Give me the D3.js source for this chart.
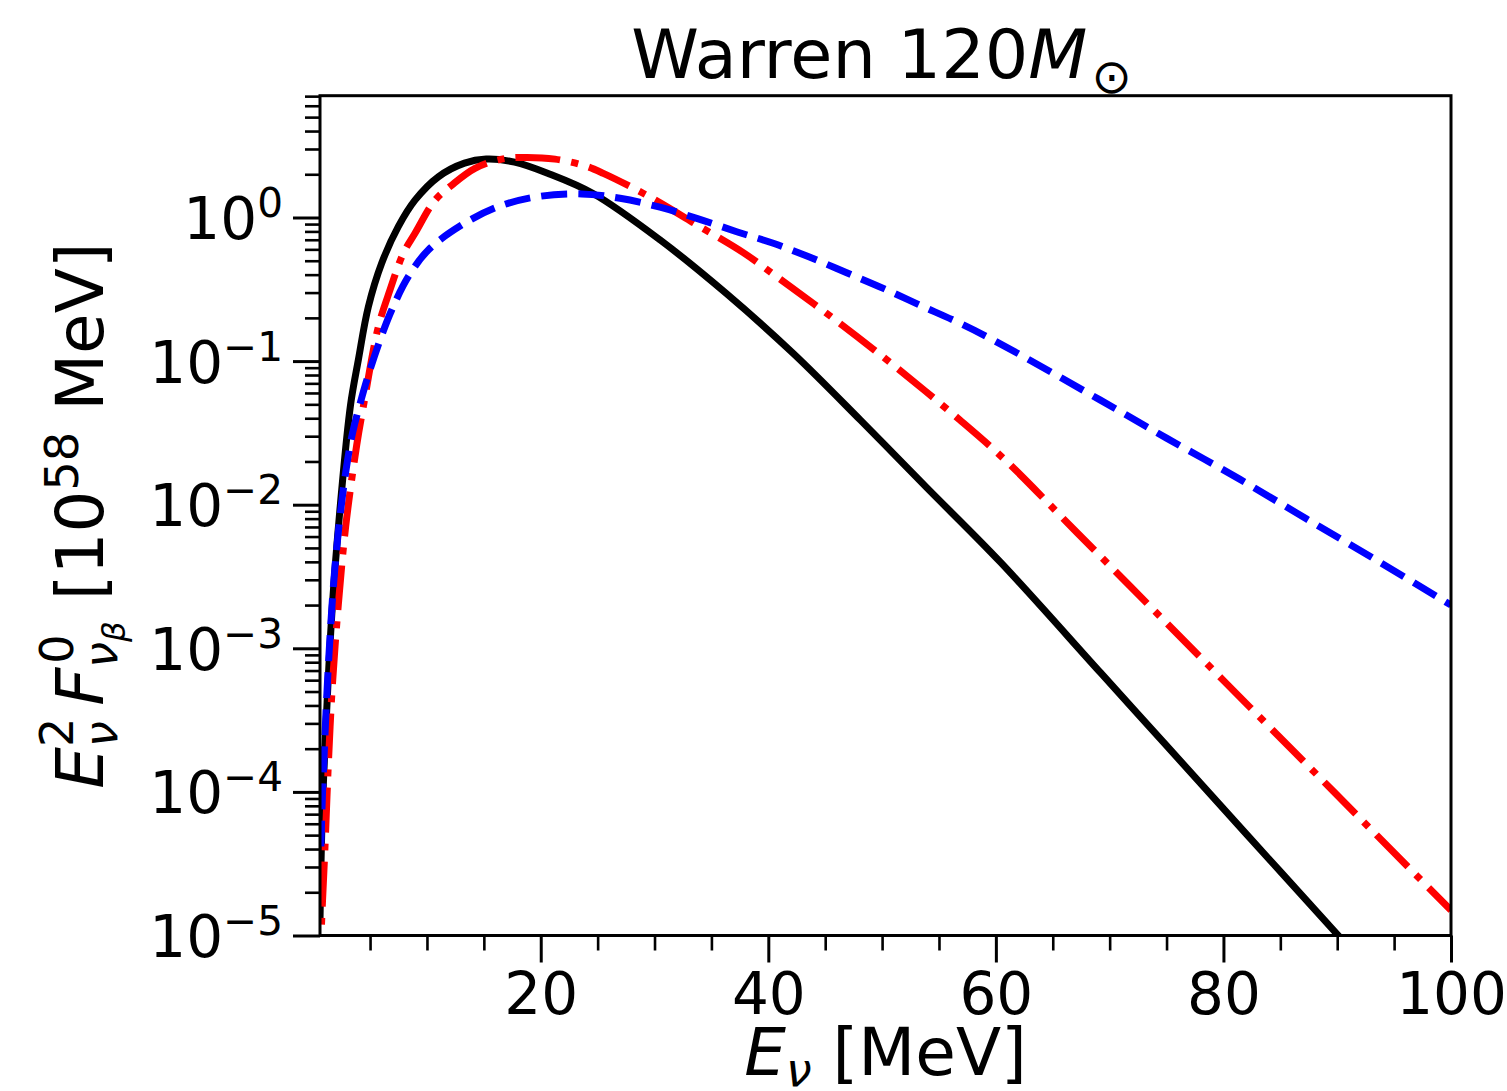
<!DOCTYPE html>
<meta charset="utf-8">
<style>
body { margin: 0; background: #fff; }
text { font-family: "DejaVu Sans", sans-serif; white-space: pre; }
</style>
<svg id="chart" width="1507" height="1091"></svg>
<script src="https://d3js.org/d3.v7.min.js"></script>
<script>
// spectra: energy [MeV] and E^2 F [1e58 MeV]
var blackE = [0.6, 0.8, 1.19, 1.68, 2.4, 3.28, 3.97, 4.85, 6.02, 7.48, 8.95, 11.0, 13.3, 15.2, 17.7, 20.7, 24.6, 30.5, 36.3, 42.2, 48.1, 53.9, 60.4, 69.2, 75.0, 82.0, 90.0, 92.0];
var blackF = [1.26e-5, 7.08e-5, 3.72e-4, 1.95e-3, 1.02e-2, 0.0493, 0.102, 0.239, 0.480, 0.863, 1.32, 1.92, 2.39, 2.55, 2.43, 2.02, 1.47, 0.697, 0.296, 0.113, 0.0388, 0.0132, 0.00398, 6.76e-4, 2.1e-4, 5.1e-5, 1.02e-5, 6.8e-6];

var redE = [0.644, 0.705, 0.749, 1.039, 1.329, 1.681, 2.208, 2.859, 3.826, 4.406, 5.724, 6.752, 7.921, 8.95, 10.71, 12.18, 14.22, 16.57, 18.62, 21.25, 23.89, 25.5, 29.31, 34.0, 37.8, 40.74, 46.3, 50.99, 56.85, 60.95, 67.1, 75.0, 82.34, 89.66, 96.99, 100];
var redF = [4.85e-6, 1.0e-5, 1.29e-5, 4.17e-5, 1.53e-4, 5.43e-4, 2.0e-3, 7.08e-3, 0.026, 0.0481, 0.173, 0.313, 0.563, 0.776, 1.32, 1.68, 2.20, 2.55, 2.62, 2.55, 2.29, 2.03, 1.43, 0.863, 0.569, 0.387, 0.183, 0.0938, 0.0388, 0.020, 6.43e-3, 1.5e-3, 3.88e-4, 1.01e-4, 2.61e-5, 1.5e-5];

var blueE = [0.679, 0.820, 0.969, 1.127, 1.303, 1.505, 1.743, 2.033, 2.402, 2.859, 3.456, 4.160, 4.845, 5.873, 6.902, 8.36, 10.12, 13.05, 16.27, 19.79, 23.60, 26.97, 30.48, 33.71, 37.22, 40.44, 43.67, 46.89, 50.11, 53.33, 56.56, 59.78, 69.15, 75.0, 81.46, 87.32, 93.47, 100];
var blueF = [4.17e-5, 9.77e-5, 1.85e-4, 3.58e-4, 6.81e-4, 1.29e-3, 2.49e-3, 4.67e-3, 8.87e-3, 0.0168, 0.0315, 0.0518, 0.0798, 0.140, 0.227, 0.387, 0.594, 0.886, 1.19, 1.40, 1.46, 1.36, 1.18, 0.987, 0.796, 0.661, 0.528, 0.412, 0.321, 0.245, 0.188, 0.140, 0.0537, 0.0291, 0.0150, 0.00794, 0.0041, 0.0020];

var xTicks = [20, 40, 60, 80, 100];
var yTickExp = [-5, -4, -3, -2, -1, 0];

var svg = d3.select("#chart");
var W = 1507, H = 1091;
var pL = 320, pR = 1451, pT = 95.7, pB = 935.5;

svg.append("rect").attr("width", W).attr("height", H).attr("fill", "#fff");

var x = d3.scaleLinear().domain([0.6, 100]).range([pL, pR]);
var y = d3.scaleLog().domain([1e-5, 7.05]).range([pB, pT]);

svg.append("clipPath").attr("id", "plotclip")
  .append("rect").attr("x", pL).attr("y", pT)
  .attr("width", pR - pL).attr("height", pB - pT);

var line = d3.line()
  .x(function(d) { return x(d[0]); })
  .y(function(d) { return y(d[1]); })
  .curve(d3.curveCatmullRom.alpha(0.5));

function pairs(es, fs) { return es.map(function(e, i) { return [e, fs[i]]; }); }

var curves = svg.append("g").attr("clip-path", "url(#plotclip)");
var lw = 7;
curves.append("path").attr("d", line(pairs(blackE, blackF)))
  .attr("fill", "none").attr("stroke", "#000").attr("stroke-width", lw);
curves.append("path").attr("d", line(pairs(redE, redF)))
  .attr("fill", "none").attr("stroke", "#ff0000").attr("stroke-width", lw)
  .attr("stroke-dasharray", [6.4 * lw, 1.6 * lw, 1 * lw, 1.6 * lw].join(","));
curves.append("path").attr("d", line(pairs(blueE, blueF)))
  .attr("fill", "none").attr("stroke", "#0000ff").attr("stroke-width", lw)
  .attr("stroke-dasharray", [3.7 * lw, 1.6 * lw].join(","));

// axes: ticks through d3 axes, labels added by hand
var xMinor = d3.range(5, 100, 5).filter(function(v) { return v % 20 !== 0; });
var yMajor = yTickExp.map(function(e) { return Math.pow(10, e); });
var yMinor = y.ticks().filter(function(v) {
  var l = Math.log10(v); return Math.abs(l - Math.round(l)) > 1e-6;
});

function styleTicks(g, width) {
  g.select(".domain").remove();
  g.selectAll("line").attr("stroke", "#000").attr("stroke-width", width);
}

svg.append("g").attr("transform", "translate(0," + pB + ")")
  .call(d3.axisBottom(x).tickValues(xMinor).tickSize(15).tickFormat(""))
  .call(styleTicks, 2.6);
var xg = svg.append("g").attr("transform", "translate(0," + pB + ")")
  .call(d3.axisBottom(x).tickValues(xTicks).tickSize(27).tickPadding(10).tickFormat(d3.format("d")))
  .call(styleTicks, 3);
xg.selectAll("text").attr("font-size", 58).attr("font-family", "DejaVu Sans")
  .attr("fill", "#000");

svg.append("g").attr("transform", "translate(" + pL + ",0)")
  .call(d3.axisLeft(y).tickValues(yMinor).tickSize(15).tickFormat(""))
  .call(styleTicks, 2.6);
var yg = svg.append("g").attr("transform", "translate(" + pL + ",0)")
  .call(d3.axisLeft(y).tickValues(yMajor).tickSize(27).tickFormat(""))
  .call(styleTicks, 3);
yg.selectAll(".tick text").each(function(d) {
  var t = d3.select(this).attr("x", -37).attr("dy", null).attr("y", 21)
    .attr("font-size", 58).attr("font-family", "DejaVu Sans").attr("fill", "#000")
    .attr("text-anchor", "end");
  var e = Math.round(Math.log10(d));
  t.append("tspan").text("10");
  t.append("tspan").attr("font-size", 40.6).attr("dy", -22)
    .text(e < 0 ? "\u2212" + (-e) : String(e));
});

// frame
svg.append("rect").attr("x", pL).attr("y", pT)
  .attr("width", pR - pL).attr("height", pB - pT)
  .attr("fill", "none").attr("stroke", "#000").attr("stroke-width", 3);

// title
var title = svg.append("text").attr("x", (pL + pR) / 2 - 4).attr("y", 78)
  .attr("text-anchor", "middle").attr("font-size", 68.5).attr("fill", "#000");
title.append("tspan").text("Warren 120");
title.append("tspan").attr("font-style", "italic").text("M");
title.append("tspan").attr("font-size", 48).attr("dx", 4).attr("dy", 15).text("\u2299");

// x label
var xl = svg.append("text").attr("x", (pL + pR) / 2).attr("y", 1075)
  .attr("text-anchor", "middle").attr("font-size", 66).attr("fill", "#000");
xl.append("tspan").attr("font-style", "italic").text("E");
xl.append("tspan").attr("font-style", "italic").attr("font-size", 46).attr("dy", 11).text("\u03bd");
xl.append("tspan").attr("dy", -11).text(" [MeV]");

// y label with stacked sub/superscripts
function textWidth(str, size, italic) {
  var t = svg.append("text").attr("font-size", size)
    .attr("font-style", italic ? "italic" : "normal").text(str);
  var w = t.node().getComputedTextLength();
  t.remove();
  return w;
}
var fs = 66, ss = 46.2, sss = 32.3;
var wNu = textWidth("\u03bd", ss, true), wTwo = textWidth("2", ss, false);
var wBeta = textWidth("\u03b2", sss, true), wZero = textWidth("0", ss, false);

var yl = svg.append("g").attr("transform", "translate(103," + (pT + pB) / 2 + ") rotate(-90)")
  .append("text").attr("text-anchor", "middle").attr("font-size", fs).attr("fill", "#000");
yl.append("tspan").attr("font-style", "italic").text("E");
yl.append("tspan").attr("font-style", "italic").attr("font-size", ss).attr("dy", 14).text("\u03bd");
yl.append("tspan").attr("font-size", ss).attr("dx", -wNu).attr("dy", -44).text("2");
yl.append("tspan").attr("font-style", "italic").attr("dx", Math.max(0, wNu - wTwo) + 12).attr("dy", 30).text("F");
yl.append("tspan").attr("font-style", "italic").attr("font-size", ss).attr("dy", 14).text("\u03bd");
yl.append("tspan").attr("font-style", "italic").attr("font-size", sss).attr("dy", 8).text("\u03b2");
yl.append("tspan").attr("font-size", ss).attr("dx", -(wNu + wBeta) + 4).attr("dy", -52).text("0");
yl.append("tspan").attr("dx", Math.max(0, wNu + wBeta - wZero - 4)).attr("dy", 30).text(" [10");
yl.append("tspan").attr("font-size", ss).attr("dy", -25).text("58");
yl.append("tspan").attr("dy", 25).text(" MeV]");
</script>
